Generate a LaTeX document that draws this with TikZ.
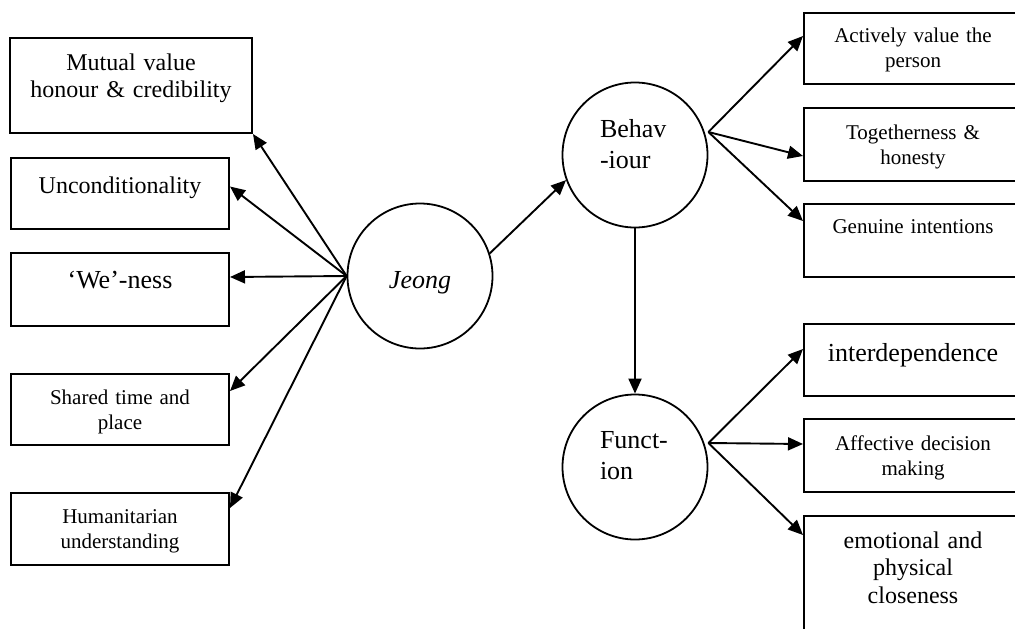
\documentclass[tikz,border=0pt]{standalone}
\usepackage{fontspec}
\setmainfont{Liberation Serif}
\usetikzlibrary{arrows.meta}
\newcommand{\fsmall}{\fontsize{21}{25}\selectfont}
\newcommand{\fmid}{\fontsize{24}{27.5}\selectfont}
\newcommand{\fbig}{\fontsize{26}{31}\selectfont}

\begin{document}
\begin{tikzpicture}[x=1pt,y=-1pt,
  box/.style={draw, line width=2pt, anchor=north west, inner sep=0pt, align=center},
  bubble/.style={draw, circle, line width=1.8pt, minimum size=145pt, inner sep=0pt},
  link/.style={draw, line width=1.9pt, -{Triangle[length=15pt,width=13pt]}}]
\useasboundingbox (0,0) rectangle (1015,629);
\clip (0,0) rectangle (1015,629);

\node[bubble, font=\fbig\itshape, text height=30pt, text depth=6pt] (jeong) at (420,276) {Jeong};
\node[bubble, font=\fbig, text width=70pt, align=left, text height=20pt, text depth=56pt] (behav) at (635,155) {Behav\\-iour};
\node[bubble, font=\fbig, text width=70pt, align=left, text height=20pt, text depth=58pt] (func) at (635,467) {Funct-\\ion};

\node[box, font=\fmid, text width=242pt, text height=32pt, text depth=63pt] (mutual) at (9,37) {Mutual value\\honour \& credibility};
\node[box, font=\fmid, text width=218pt, text height=35pt, text depth=36pt] (uncond) at (10,157) {Unconditionality};
\node[box, font=\fbig, text width=218pt, text height=35pt, text depth=38pt] (weness) at (10,252) {`We'-ness};
\node[box, font=\fsmall, text width=218pt, text height=30pt, text depth=41pt] (shared) at (10,373) {Shared time and\\place};
\node[box, font=\fsmall, text width=218pt, text height=30pt, text depth=42pt] (human) at (10,492) {Humanitarian\\understanding};

\node[box, font=\fsmall, text width=218pt, text height=29pt, text depth=42pt] (active) at (803,12) {Actively value the\\person};
\node[box, font=\fsmall, text width=218pt, text height=31pt, text depth=42pt] (together) at (803,107) {Togetherness \&\\honesty};
\node[box, font=\fsmall, text width=218pt, text height=29pt, text depth=44pt] (genuine) at (803,203) {Genuine intentions};
\node[box, font=\fbig, text width=218pt, text height=37pt, text depth=35pt] (interdep) at (803,323) {interdependence};
\node[box, font=\fsmall, text width=218pt, text height=31pt, text depth=42pt] (affect) at (803,418) {Affective decision\\making};
\node[box, font=\fmid, text width=218pt, text height=32pt, text depth=113pt] (emotion) at (803,515) {emotional and\\physical\\closeness};

\path[link] (jeong.west) -- (mutual.south east);
\path[link] (jeong.west) -- ([yshift=7pt]uncond.east);
\path[link] (jeong.west) -- ([yshift=12.5pt]weness.east);
\path[link] (jeong.west) -- ([yshift=18.5pt]shared.east);
\path[link] (jeong.west) -- ([yshift=21pt]human.east);

\path[link] (jeong.18) -- (behav.200);
\path[link] (behav.south) -- (func.north);

\path[link] ([yshift=23pt]behav.east) -- ([yshift=12.5pt]active.west);
\path[link] ([yshift=23pt]behav.east) -- ([yshift=-11.5pt]together.west);
\path[link] ([yshift=23pt]behav.east) -- ([yshift=19.5pt]genuine.west);

\path[link] ([yshift=24pt]func.east) -- ([yshift=11pt]interdep.west);
\path[link] ([yshift=24pt]func.east) -- ([yshift=11.5pt]affect.west);
\path[link] ([yshift=24pt]func.east) -- ([yshift=-20pt]emotion.north west);
\end{tikzpicture}
\end{document}
